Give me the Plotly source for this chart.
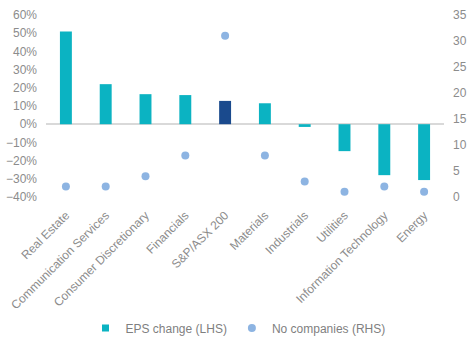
import plotly.graph_objects as go

categories = ["Real Estate", "Communication Services", "Consumer Discretionary", "Financials",
              "S&P/ASX 200", "Materials", "Industrials", "Utilities",
              "Information Technology", "Energy"]
eps_change = [0.51, 0.22, 0.165, 0.16, 0.128, 0.115, -0.015, -0.148, -0.28, -0.307]
no_companies = [2, 2, 4, 8, 31, 8, 3, 1, 2, 1]

teal = "#0BB3C2"
navy = "#1A4A8D"
dot = "#8DB4E2"
bar_colors = [navy if c == "S&P/ASX 200" else teal for c in categories]

fig = go.Figure()
fig.add_trace(go.Bar(x=categories, y=eps_change, name="EPS change (LHS)",
                     marker=dict(color=bar_colors, line=dict(width=0)), width=0.3,
                     yaxis="y", showlegend=False))
fig.add_trace(go.Scatter(x=categories, y=no_companies, name="No companies (RHS)",
                         mode="markers", marker=dict(color=dot, size=8),
                         yaxis="y2", showlegend=False))
# legend entries
fig.add_trace(go.Scatter(x=[None], y=[None], name="EPS change (LHS)", mode="markers",
                         marker=dict(color=teal, symbol="square", size=7), yaxis="y"))
fig.add_trace(go.Scatter(x=[None], y=[None], name="No companies (RHS)", mode="markers",
                         marker=dict(color=dot, size=8), yaxis="y2"))

tick_font = dict(family="Liberation Sans, Arial, sans-serif", size=12, color="#8C8C8C")

fig.update_layout(
    width=476, height=347,
    margin=dict(l=46, r=32, t=15, b=150, autoexpand=False),
    paper_bgcolor="white", plot_bgcolor="white",
    font=tick_font,
    showlegend=True,
    legend=dict(orientation="h", x=0.5, xanchor="center", xref="container",
                y=(347 - 328) / 347, yanchor="middle", yref="container",
                font=dict(family="Liberation Sans, Arial, sans-serif", size=12, color="#7F7F7F"),
                itemwidth=30, traceorder="normal", tracegroupgap=0),
    xaxis=dict(tickangle=-45, showline=False, showgrid=False, ticks="", automargin=False,
               tickfont=tick_font, ticklabelstandoff=8, range=[-0.5, 9.5],
               categoryorder="array", categoryarray=categories),
    yaxis=dict(range=[-0.4, 0.6], dtick=0.1, tickformat=".0%", showgrid=False,
               zeroline=True, zerolinecolor="#D9D9D9", zerolinewidth=1.5,
               showline=False, automargin=False, tickfont=tick_font, ticks="",
               ticklabelstandoff=8),
    yaxis2=dict(range=[0, 35], dtick=5, overlaying="y", side="right", showgrid=False,
                zeroline=False, showline=False, automargin=False, tickfont=tick_font, ticks="",
                ticklabelstandoff=8),
)

fig.write_html("out.html")
